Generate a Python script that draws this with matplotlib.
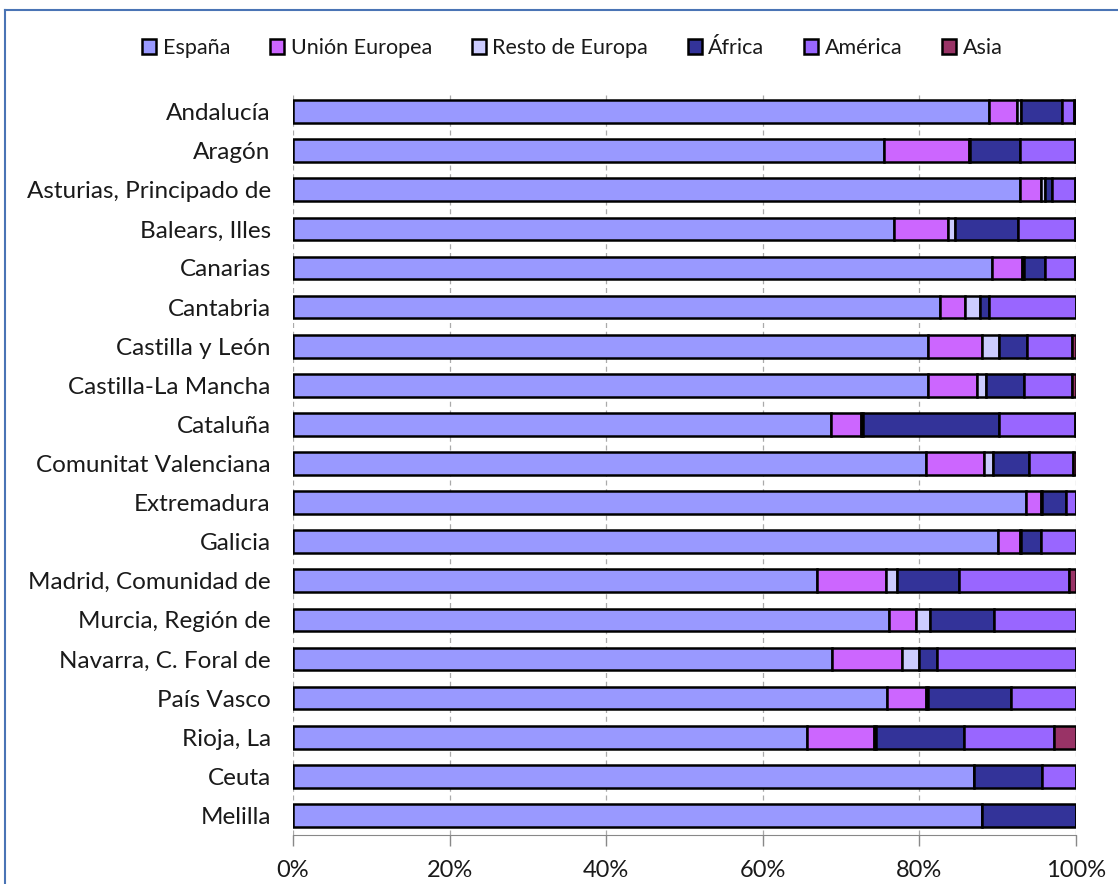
import numpy as np
import matplotlib
matplotlib.use('Agg')
from matplotlib import pyplot as plt
from matplotlib.ticker import PercentFormatter

# datos (% de población por procedencia)
regiones = ['Andalucía', 'Aragón', 'Asturias, Principado de', 'Balears, Illes',
            'Canarias', 'Cantabria', 'Castilla y León', 'Castilla-La Mancha',
            'Cataluña', 'Comunitat Valenciana', 'Extremadura', 'Galicia',
            'Madrid, Comunidad de', 'Murcia, Región de', 'Navarra, C. Foral de',
            'País Vasco', 'Rioja, La', 'Ceuta', 'Melilla']
series = ['España', 'Unión Europea', 'Resto de Europa', 'África', 'América', 'Asia']

espana  = [88.9, 75.5, 92.8, 76.7, 89.3, 82.6, 81.1, 81.1, 68.7, 80.8, 93.6, 90.0, 66.9, 76.1, 68.8, 75.9, 65.7, 87.0, 88.0]
ue      = [3.6, 10.8, 2.7, 6.9, 3.8, 3.2, 6.9, 6.2, 3.9, 7.4, 1.9, 2.9, 8.8, 3.5, 9.0, 4.9, 8.5, 0.0, 0.0]
resto   = [0.5, 0.2, 0.6, 1.0, 0.2, 1.9, 2.2, 1.2, 0.2, 1.2, 0.1, 0.1, 1.4, 1.7, 2.2, 0.3, 0.2, 0.0, 0.0]
africa  = [5.2, 6.4, 0.8, 8.0, 2.8, 1.2, 3.5, 4.8, 17.4, 4.6, 3.1, 2.5, 8.0, 8.2, 2.3, 10.6, 11.3, 8.7, 12.0]
america = [1.5, 7.0, 3.0, 7.3, 3.8, 11.1, 5.8, 6.2, 9.7, 5.6, 1.3, 4.5, 14.0, 10.5, 17.7, 8.3, 11.5, 4.3, 0.0]
asia    = [0.3, 0.1, 0.1, 0.1, 0.1, 0.0, 0.5, 0.5, 0.1, 0.4, 0.0, 0.0, 0.9, 0.0, 0.0, 0.0, 2.8, 0.0, 0.0]

colores = ['#9999FF', '#CC66FF', '#CCCCFF', '#333399', '#9966FF', '#993366']

plt.rcParams['font.family'] = ['Lato', 'DejaVu Sans']

data = np.array([espana, ue, resto, africa, america, asia])
data = data / data.sum(axis=0) * 100

fig = plt.figure(figsize=(11.18, 8.84), dpi=100)
ax = fig.add_axes([293/1118, 1 - 835/884, 783/1118, 743/884])

y = np.arange(len(regiones))
left = np.zeros(len(regiones))
for i in range(len(series)):
    ax.barh(y, data[i], left=left, height=0.58, color=colores[i],
            edgecolor='black', linewidth=1.8, label=series[i], zorder=3)
    left += data[i]

ax.set_xlim(0, 100)
ax.set_ylim(len(regiones) - 0.5, -0.5)
ax.set_xticks(np.arange(0, 101, 20))
ax.xaxis.set_major_formatter(PercentFormatter(decimals=0))
ax.set_yticks(y)
ax.set_yticklabels(regiones)
ax.tick_params(axis='y', length=0, labelsize=17.5, pad=16, colors='#1a1a1a')
ax.tick_params(axis='x', length=8, width=1, color='#888888', labelsize=17, pad=10,
               labelcolor='#1a1a1a')
ax.grid(axis='x', color='#aaaaaa', linestyle=(0, (4, 3)), linewidth=0.9, zorder=0)
for s in ['top', 'right', 'left']:
    ax.spines[s].set_visible(False)
ax.spines['bottom'].set_color('#888888')

leg = fig.legend(loc='center', bbox_to_anchor=(0.512, 1 - 48/884), ncol=6,
                 frameon=False, fontsize=15.5, handlelength=0.65, handleheight=0.65,
                 handletextpad=0.3, columnspacing=1.85)
for t in leg.get_texts():
    t.set_color('#1a1a1a')

# borde del gráfico
fig.add_artist(plt.Line2D([5/1118, 5/1118], [0, 1 - 10/884], transform=fig.transFigure, color='#4a74b5', lw=1.5))
fig.add_artist(plt.Line2D([5/1118, 1], [1 - 10/884, 1 - 10/884], transform=fig.transFigure, color='#4a74b5', lw=1.5))

fig.savefig('out.png', dpi=100)
